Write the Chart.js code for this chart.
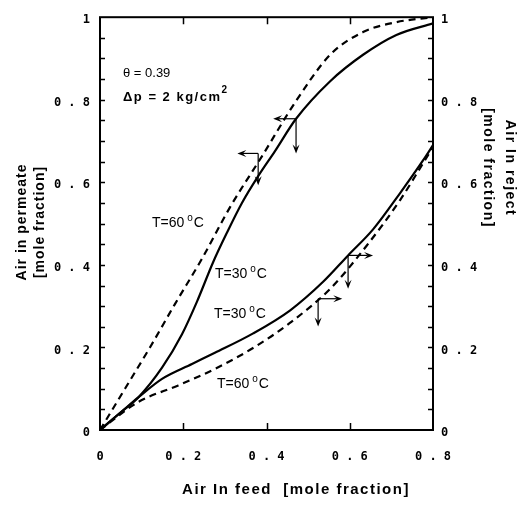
<!DOCTYPE html>
<html>
<head>
<meta charset="utf-8">
<script src="https://cdn.jsdelivr.net/npm/chart.js@4.4.1/dist/chart.umd.min.js"></script>
<style>
  html, body { margin: 0; padding: 0; background: #fff; }
  #wrap { width: 526px; height: 509px; }
</style>
</head>
<body>
<div id="wrap"><canvas id="chart" width="526" height="509"></canvas></div>
<script>
// Air in permeate (left axis) and air in reject (right axis) vs air in feed
// values

// permeate, T=60 C (dashed)
const feedPerm60 = [0, 0.06, 0.12, 0.18, 0.245, 0.3125, 0.389, 0.471, 0.553, 0.632, 0.712, 0.8];
const perm60     = [0, 0.10, 0.20, 0.305, 0.415, 0.54, 0.663, 0.797, 0.909, 0.964, 0.988, 1.0];

// permeate, T=30 C (solid)
const feedPerm30 = [0, 0.05, 0.092, 0.149, 0.197, 0.233, 0.272, 0.305, 0.341, 0.38, 0.42, 0.471, 0.553, 0.632, 0.712, 0.8];
const perm30     = [0, 0.043, 0.079, 0.151, 0.232, 0.311, 0.407, 0.478, 0.55, 0.615, 0.675, 0.754, 0.845, 0.909, 0.957, 0.985];

// reject, T=30 C (solid)
const feedRej30 = [0, 0.05, 0.092, 0.149, 0.221, 0.276, 0.368, 0.457, 0.536, 0.596, 0.656, 0.721, 0.776, 0.8];
const rej30     = [0, 0.043, 0.079, 0.124, 0.16, 0.187, 0.234, 0.29, 0.359, 0.423, 0.486, 0.574, 0.653, 0.69];

// reject, T=60 C (dashed)
const feedRej60 = [0, 0.092, 0.188, 0.276, 0.37, 0.457, 0.553, 0.641, 0.721, 0.776, 0.8];
const rej60     = [0, 0.068, 0.108, 0.148, 0.2, 0.26, 0.342, 0.447, 0.557, 0.646, 0.685];

// tick labels
const xTickLabels = ['0', '0 . 2', '0 . 4', '0 . 6', '0 . 8'];
const yTickLabels = ['0', '0 . 2', '0 . 4', '0 . 6', '0 . 8', '1'];
const yMinorStep = 0.05;
const xMajorStep = 0.2;

// axis-direction arrows: start point on a curve, horizontal end x, vertical end y
const arrowStartX = [0.38, 0.471, 0.596, 0.524];
const arrowStartY = [0.67, 0.754, 0.423, 0.318];
const arrowEndX   = [0.33, 0.416, 0.656, 0.582];
const arrowEndY   = [0.593, 0.67, 0.342, 0.251];
const arrowAxis   = ['y', 'y', 'y2', 'y2'];

const zip = (xs, ys) => xs.map((x, i) => ({ x: x, y: ys[i] }));

const tickFont = { family: "'DejaVu Sans Mono'", size: 12, weight: 'bold' };
const titleFont = "bold 14px 'Liberation Sans', Arial, sans-serif";

function arrow(ctx, x1, y1, x2, y2) {
    const a = Math.atan2(y2 - y1, x2 - x1);
    const len = 9, w = 3.5;
    ctx.beginPath();
    ctx.moveTo(x1, y1);
    ctx.lineTo(x2 - Math.cos(a) * len * 0.6, y2 - Math.sin(a) * len * 0.6);
    ctx.stroke();
    ctx.beginPath();
    ctx.moveTo(x2, y2);
    ctx.lineTo(x2 - Math.cos(a) * len - Math.sin(a) * w, y2 - Math.sin(a) * len + Math.cos(a) * w);
    ctx.lineTo(x2 - Math.cos(a) * len * 0.6, y2 - Math.sin(a) * len * 0.6);
    ctx.lineTo(x2 - Math.cos(a) * len + Math.sin(a) * w, y2 - Math.sin(a) * len - Math.cos(a) * w);
    ctx.closePath();
    ctx.fill();
}

// draws "T=60", raised small "o", "C"
function tempLabel(ctx, x, y, t) {
    ctx.textAlign = 'left';
    ctx.textBaseline = 'alphabetic';
    ctx.font = "14px 'Liberation Sans', Arial, sans-serif";
    ctx.fillText('T=' + t, x, y);
    let w = ctx.measureText('T=' + t).width + 3;
    ctx.font = "10px 'Liberation Sans', Arial, sans-serif";
    ctx.fillText('o', x + w, y - 6);
    w += ctx.measureText('o').width + 1;
    ctx.font = "14px 'Liberation Sans', Arial, sans-serif";
    ctx.fillText('C', x + w, y);
}

const decorations = {
    id: 'decorations',
    afterDatasetsDraw(chart) {
        const ctx = chart.ctx;
        const a = chart.chartArea;
        const xs = chart.scales.x, ys = chart.scales.y;
        ctx.save();
        ctx.strokeStyle = '#000';
        ctx.fillStyle = '#000';

        // frame
        ctx.lineWidth = 2;
        ctx.strokeRect(a.left, a.top, a.right - a.left, a.bottom - a.top);

        // inward ticks
        ctx.lineWidth = 1.5;
        ctx.beginPath();
        for (let v = yMinorStep; v < 1 - 1e-6; v += yMinorStep) {
            const py = Math.round(ys.getPixelForValue(v)) + 0.5;
            ctx.moveTo(a.left, py); ctx.lineTo(a.left + 5, py);
            ctx.moveTo(a.right, py); ctx.lineTo(a.right - 5, py);
        }
        for (let v = xMajorStep; v < 0.8 - 1e-6; v += xMajorStep) {
            const px = Math.round(xs.getPixelForValue(v)) + 0.5;
            ctx.moveTo(px, a.bottom); ctx.lineTo(px, a.bottom - 7);
            ctx.moveTo(px, a.top); ctx.lineTo(px, a.top + 7);
        }
        ctx.stroke();

        // arrows
        ctx.lineWidth = 1.2;
        arrowStartX.forEach((sx, i) => {
            const yScale = chart.scales[arrowAxis[i]];
            const px = xs.getPixelForValue(sx);
            const py = yScale.getPixelForValue(arrowStartY[i]);
            arrow(ctx, px, py, xs.getPixelForValue(arrowEndX[i]), py);
            arrow(ctx, px, py, px, yScale.getPixelForValue(arrowEndY[i]));
        });

        // annotations
        ctx.textAlign = 'left';
        ctx.textBaseline = 'middle';
        ctx.font = "13px 'Liberation Sans', Arial, sans-serif";
        ctx.fillText('\u03b8 = 0.39', 123, 73);
        ctx.font = "bold 13px 'Liberation Sans', Arial, sans-serif";
        ctx.letterSpacing = '1.5px';
        ctx.fillText('\u0394p = 2 kg/cm', 123, 97);
        const w = ctx.measureText('\u0394p = 2 kg/cm').width;
        ctx.font = "bold 10px 'Liberation Sans', Arial, sans-serif";
        ctx.fillText('2', 123 + w, 90);
        ctx.letterSpacing = '0px';

        tempLabel(ctx, 152, 227, '60');
        tempLabel(ctx, 215, 278, '30');
        tempLabel(ctx, 214, 318, '30');
        tempLabel(ctx, 217, 388, '60');

        // axis titles
        ctx.font = titleFont;
        ctx.letterSpacing = '1px';
        ctx.textAlign = 'center';
        ctx.textBaseline = 'middle';
        ctx.save();
        ctx.translate(22, 222);
        ctx.rotate(-Math.PI / 2);
        ctx.fillText('Air in permeate', 0, 0);
        ctx.fillText('[mole fraction]', 0, 18);
        ctx.restore();

        ctx.save();
        ctx.translate(510, 168);
        ctx.rotate(Math.PI / 2);
        ctx.letterSpacing = '1.5px';
        ctx.fillText('Air In reject', 0, 0);
        ctx.fillText('[mole fraction]', 0, 22);
        ctx.restore();

        ctx.font = "bold 15px 'Liberation Sans', Arial, sans-serif";
        ctx.letterSpacing = '1.5px';
        ctx.fillText('Air In feed  [mole fraction]', 296, 490);
        ctx.restore();
    }
};

const lineStyle = {
    borderColor: '#000',
    borderWidth: 2.2,
    pointRadius: 0,
    fill: false,
    cubicInterpolationMode: 'monotone'
};

new Chart(document.getElementById('chart'), {
    type: 'line',
    data: {
        datasets: [
            Object.assign({ label: 'Permeate T=60\u00b0C', data: zip(feedPerm60, perm60), borderDash: [7, 5], yAxisID: 'y' }, lineStyle),
            Object.assign({ label: 'Permeate T=30\u00b0C', data: zip(feedPerm30, perm30), yAxisID: 'y' }, lineStyle),
            Object.assign({ label: 'Reject T=30\u00b0C', data: zip(feedRej30, rej30), yAxisID: 'y2' }, lineStyle),
            Object.assign({ label: 'Reject T=60\u00b0C', data: zip(feedRej60, rej60), borderDash: [7, 5], yAxisID: 'y2' }, lineStyle)
        ]
    },
    options: {
        responsive: false,
        animation: false,
        devicePixelRatio: 1,
        layout: { padding: { top: 12 } },
        plugins: { legend: { display: false }, tooltip: { enabled: false } },
        scales: {
            x: {
                type: 'linear', min: 0, max: 0.8,
                grid: { display: false, drawTicks: false },
                border: { display: false },
                ticks: { stepSize: 0.2, color: '#000', font: tickFont, padding: 20, maxRotation: 0,
                         callback: (v, i) => xTickLabels[i] },
                afterFit: s => { s.height = 79; }
            },
            y: {
                type: 'linear', position: 'left', min: 0, max: 1,
                grid: { display: false, drawTicks: false },
                border: { display: false },
                ticks: { stepSize: 0.2, color: '#000', font: tickFont, padding: 10, labelOffset: 3,
                         callback: (v, i) => yTickLabels[i] },
                afterFit: s => { s.width = 100; }
            },
            y2: {
                type: 'linear', position: 'right', min: 0, max: 1,
                grid: { display: false, drawTicks: false },
                border: { display: false },
                ticks: { stepSize: 0.2, color: '#000', font: tickFont, padding: 8, labelOffset: 3,
                         callback: (v, i) => yTickLabels[i] },
                afterFit: s => { s.width = 93; }
            }
        }
    },
    plugins: [decorations]
});
</script>
</body>
</html>
